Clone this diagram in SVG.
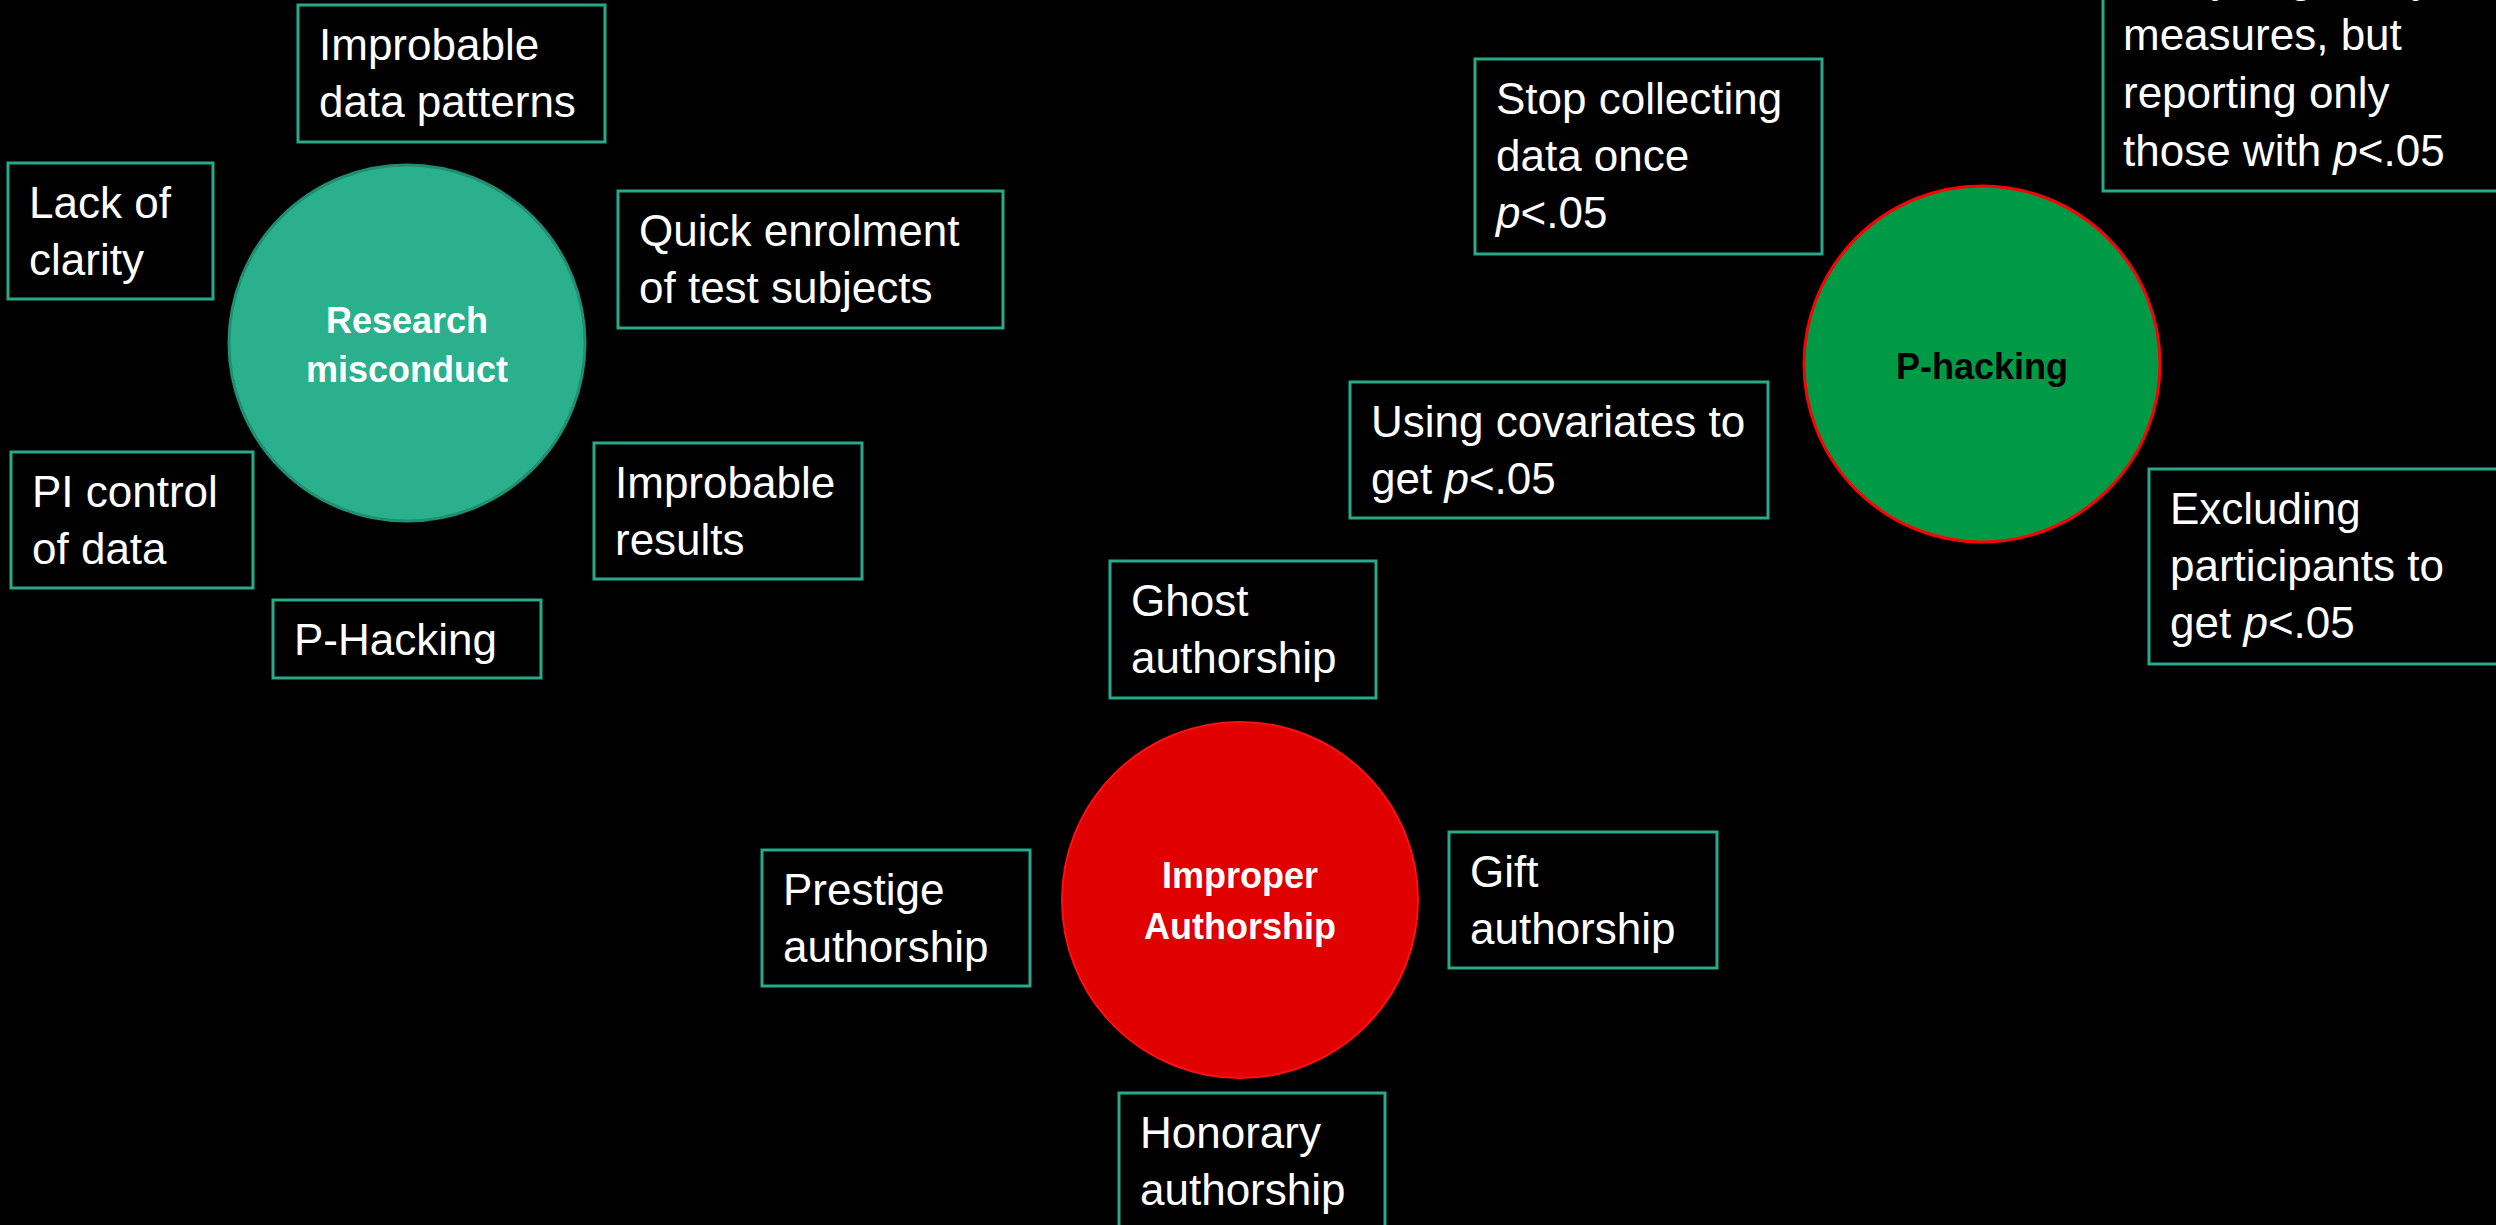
<svg xmlns="http://www.w3.org/2000/svg" width="2496" height="1225" viewBox="0 0 2496 1225">
<style>
.box{fill:#000;stroke:#27A98A;stroke-width:3}
.t{font-family:"Liberation Sans",Arial,sans-serif;font-size:44px;fill:#fff}
.c{font-family:"Liberation Sans",Arial,sans-serif;font-size:36px;font-weight:bold;text-anchor:middle}
.i{font-style:italic}
</style>
<rect x="0" y="0" width="2496" height="1225" fill="#000"/>
<g id="connectors"></g>

<g id="research-misconduct">
<circle cx="407" cy="343" r="178" fill="#2BB08E" stroke="#1F8F72" stroke-width="3"/>
<text class="c" fill="#fff"><tspan x="407" y="333">Research</tspan><tspan x="407" y="382">misconduct</tspan></text>
</g>
<g id="improbable-data-patterns">
<rect class="box" x="298" y="5" width="307" height="137"/>
<text class="t"><tspan x="319" y="60">Improbable</tspan><tspan x="319" y="117">data patterns</tspan></text>
</g>
<g id="lack-of-clarity">
<rect class="box" x="8" y="163" width="205" height="136"/>
<text class="t"><tspan x="29" y="218">Lack of</tspan><tspan x="29" y="275">clarity</tspan></text>
</g>
<g id="quick-enrolment">
<rect class="box" x="618" y="191" width="385" height="137"/>
<text class="t"><tspan x="639" y="246">Quick enrolment</tspan><tspan x="639" y="303">of test subjects</tspan></text>
</g>
<g id="pi-control">
<rect class="box" x="11" y="452" width="242" height="136"/>
<text class="t"><tspan x="32" y="507">PI control</tspan><tspan x="32" y="564">of data</tspan></text>
</g>
<g id="improbable-results">
<rect class="box" x="594" y="443" width="268" height="136"/>
<text class="t"><tspan x="615" y="498">Improbable</tspan><tspan x="615" y="555">results</tspan></text>
</g>
<g id="p-hacking-box">
<rect class="box" x="273" y="600" width="268" height="78"/>
<text class="t" x="294" y="655">P-Hacking</text>
</g>

<g id="p-hacking">
<circle cx="1982" cy="364" r="178" fill="#009A46" stroke="#FF0000" stroke-width="3"/>
<text class="c" fill="#000" x="1982" y="379">P-hacking</text>
</g>
<g id="stop-collecting">
<rect class="box" x="1475" y="59" width="347" height="195"/>
<text class="t"><tspan x="1496" y="114">Stop collecting</tspan><tspan x="1496" y="171">data once</tspan><tspan x="1496" y="228"><tspan class="i">p</tspan>&lt;.05</tspan></text>
</g>
<g id="analysing-many">
<rect class="box" x="2103" y="-63" width="400" height="254"/>
<text class="t"><tspan x="2123" y="-8">Analysing many</tspan><tspan x="2123" y="50">measures, but</tspan><tspan x="2123" y="108">reporting only</tspan><tspan x="2123" y="166">those with <tspan class="i">p</tspan>&lt;.05</tspan></text>
</g>
<g id="using-covariates">
<rect class="box" x="1350" y="382" width="418" height="136"/>
<text class="t"><tspan x="1371" y="437">Using covariates to</tspan><tspan x="1371" y="494">get <tspan class="i">p</tspan>&lt;.05</tspan></text>
</g>
<g id="excluding-participants">
<rect class="box" x="2149" y="469" width="354" height="195"/>
<text class="t"><tspan x="2170" y="524">Excluding</tspan><tspan x="2170" y="581">participants to</tspan><tspan x="2170" y="638">get <tspan class="i">p</tspan>&lt;.05</tspan></text>
</g>

<g id="improper-authorship">
<circle cx="1240" cy="900" r="178" fill="#E00000" stroke="#FF1010" stroke-width="2"/>
<text class="c" fill="#fff"><tspan x="1240" y="888">Improper</tspan><tspan x="1240" y="939">Authorship</tspan></text>
</g>
<g id="ghost-authorship">
<rect class="box" x="1110" y="561" width="266" height="137"/>
<text class="t"><tspan x="1131" y="616">Ghost</tspan><tspan x="1131" y="673">authorship</tspan></text>
</g>
<g id="prestige-authorship">
<rect class="box" x="762" y="850" width="268" height="136"/>
<text class="t"><tspan x="783" y="905">Prestige</tspan><tspan x="783" y="962">authorship</tspan></text>
</g>
<g id="gift-authorship">
<rect class="box" x="1449" y="832" width="268" height="136"/>
<text class="t"><tspan x="1470" y="887">Gift</tspan><tspan x="1470" y="944">authorship</tspan></text>
</g>
<g id="honorary-authorship">
<rect class="box" x="1119" y="1093" width="266" height="137"/>
<text class="t"><tspan x="1140" y="1148">Honorary</tspan><tspan x="1140" y="1205">authorship</tspan></text>
</g>
</svg>
